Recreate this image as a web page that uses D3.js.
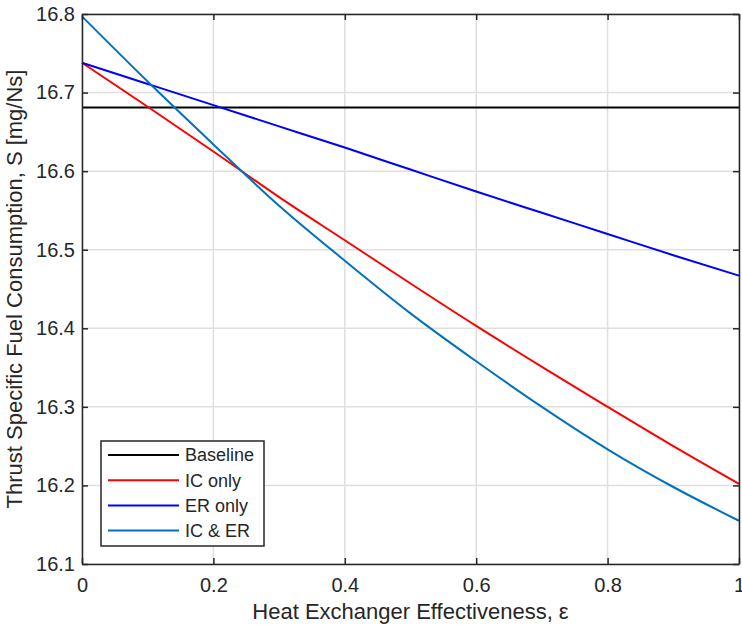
<!DOCTYPE html>
<html>
<head>
<meta charset="utf-8">
<script src="https://cdn.jsdelivr.net/npm/d3@7"></script>
<style>
  body { margin: 0; background: #fff; }
  svg { display: block; }
  text { font-family: "Liberation Sans", Arial, Helvetica, sans-serif; fill: #262626; }
</style>
</head>
<body>
<svg id="chart" width="742" height="625"></svg>
<script>
// Heat exchanger effectiveness samples
const effectiveness = [0, 0.1, 0.2, 0.3, 0.4, 0.5, 0.6, 0.7, 0.8, 0.9, 1.0];

// TSFC values [mg/Ns] for each configuration
const baselineTSFC = [16.681, 16.681, 16.681, 16.681, 16.681, 16.681, 16.681, 16.681, 16.681, 16.681, 16.681];
const icOnlyTSFC   = [16.738, 16.682, 16.625, 16.567, 16.512, 16.457, 16.403, 16.351, 16.300, 16.250, 16.202];
const erOnlyTSFC   = [16.738, 16.711, 16.684, 16.657, 16.630, 16.602, 16.574, 16.547, 16.520, 16.493, 16.467];
const icErTSFC     = [16.797, 16.714, 16.634, 16.556, 16.486, 16.419, 16.358, 16.300, 16.246, 16.198, 16.155];

const seriesNames  = ["Baseline", "IC only", "ER only", "IC & ER"];
const seriesColors = ["#000000", "#ff0000", "#0000ff", "#0072bd"];
const seriesValues = [baselineTSFC, icOnlyTSFC, erOnlyTSFC, icErTSFC];

const xTicks = [0, 0.2, 0.4, 0.6, 0.8, 1];
const yTicks = [16.1, 16.2, 16.3, 16.4, 16.5, 16.6, 16.7, 16.8];

const svg = d3.select("#chart");
const plot = { left: 82, right: 739, top: 14, bottom: 564 };

const x = d3.scaleLinear().domain([0, 1]).range([plot.left, plot.right]);
const y = d3.scaleLinear().domain([16.1, 16.8]).range([plot.bottom, plot.top]);

const axisColor = "#262626";
const gridColor = "#dfdfdf";
const tickLen = 6;

// Grid lines
const grid = svg.append("g");
grid.selectAll("line.gx").data(xTicks).join("line")
  .attr("x1", d => x(d)).attr("x2", d => x(d))
  .attr("y1", plot.top).attr("y2", plot.bottom)
  .attr("stroke", gridColor).attr("stroke-width", 1.5);
grid.selectAll("line.gy").data(yTicks).join("line")
  .attr("x1", plot.left).attr("x2", plot.right)
  .attr("y1", d => y(d)).attr("y2", d => y(d))
  .attr("stroke", gridColor).attr("stroke-width", 1.5);

// Data lines
const line = d3.line()
  .x((d, i) => x(effectiveness[i]))
  .y(d => y(d))
  .curve(d3.curveMonotoneX);

svg.append("g").selectAll("path").data(seriesValues).join("path")
  .attr("d", d => line(d))
  .attr("fill", "none")
  .attr("stroke", (d, i) => seriesColors[i])
  .attr("stroke-width", 2);

// Axes (inward ticks, box on all four sides)
const fmtX = d => d3.format("")(d);
const fmtY = d => d3.format(".1f")(d);

const xAxisB = svg.append("g").attr("transform", `translate(0,${plot.bottom})`)
  .call(d3.axisBottom(x).tickValues(xTicks).tickFormat(fmtX).tickSizeInner(-tickLen).tickSizeOuter(0).tickPadding(14));
const xAxisT = svg.append("g").attr("transform", `translate(0,${plot.top})`)
  .call(d3.axisTop(x).tickValues(xTicks).tickFormat("").tickSizeInner(-tickLen).tickSizeOuter(0));
const yAxisL = svg.append("g").attr("transform", `translate(${plot.left},0)`)
  .call(d3.axisLeft(y).tickValues(yTicks).tickFormat(fmtY).tickSizeInner(-tickLen).tickSizeOuter(0).tickPadding(7));
const yAxisR = svg.append("g").attr("transform", `translate(${plot.right},0)`)
  .call(d3.axisRight(y).tickValues(yTicks).tickFormat("").tickSizeInner(-tickLen).tickSizeOuter(0));

[xAxisB, xAxisT, yAxisL, yAxisR].forEach(g => {
  g.select(".domain").attr("stroke", axisColor).attr("stroke-width", 1.5);
  g.selectAll(".tick line").attr("stroke", axisColor).attr("stroke-width", 1.5);
  g.selectAll(".tick text").attr("font-size", 20).attr("fill", axisColor)
    .style("font-family", '"Liberation Sans", Arial, sans-serif');
});

// Axis titles
svg.append("text")
  .attr("x", (plot.left + plot.right) / 2)
  .attr("y", 619)
  .attr("text-anchor", "middle")
  .attr("font-size", 22)
  .text("Heat Exchanger Effectiveness, \u03b5");

svg.append("text")
  .attr("transform", `translate(22,${(plot.top + plot.bottom) / 2}) rotate(-90)`)
  .attr("text-anchor", "middle")
  .attr("font-size", 22)
  .text("Thrust Specific Fuel Consumption, S [mg/Ns]");

// Legend
const legend = svg.append("g");
legend.append("rect")
  .attr("x", 101).attr("y", 441).attr("width", 163).attr("height", 105)
  .attr("fill", "#fff").attr("stroke", axisColor).attr("stroke-width", 1.5);

const rows = legend.selectAll("g.row").data(seriesNames).join("g")
  .attr("transform", (d, i) => `translate(0,${455 + i * 25.2})`);
rows.append("line")
  .attr("x1", 108).attr("x2", 179)
  .attr("stroke", (d, i) => seriesColors[i]).attr("stroke-width", 2);
rows.append("text")
  .attr("x", 185).attr("dy", "0.35em")
  .attr("font-size", 18)
  .attr("fill", "#000")
  .text(d => d);
</script>
</body>
</html>
